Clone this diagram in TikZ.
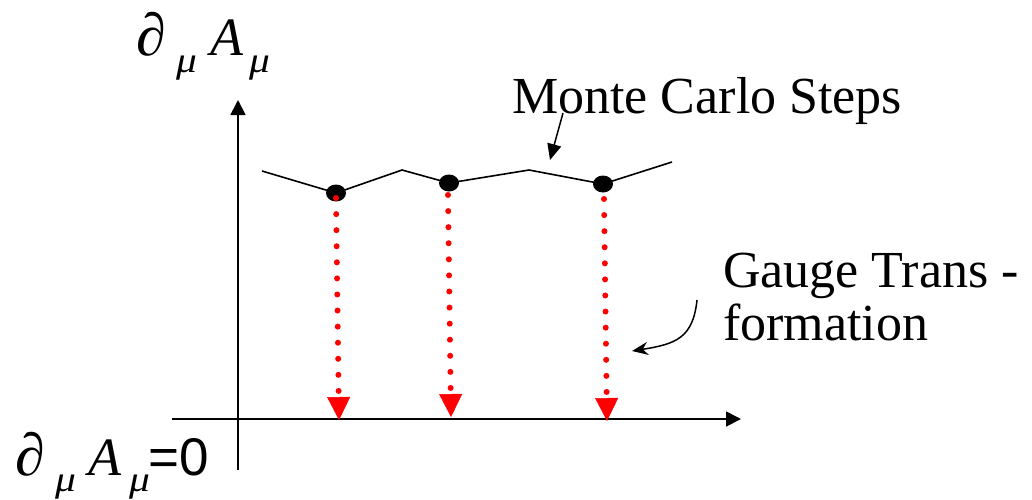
\documentclass[tikz,border=0pt]{standalone}
\usepackage{fontspec}
\setmainfont{Liberation Serif}
\newfontfamily\arialfont{Liberation Sans}
\usetikzlibrary{arrows.meta,shapes.geometric}
\newcommand{\mypartial}{\fontsize{60}{60}\selectfont ∂}
\newcommand{\mysubmu}[1]{\raisebox{#1}{\scalebox{1.15}[1]{\fontsize{36}{36}\selectfont\itshape μ}}}
\newcommand{\myA}{\fontsize{54}{60}\selectfont\itshape A}
\begin{document}
\begin{tikzpicture}[x=1pt,y=-1pt,
  axis/.style={line width=1.8pt,-{Triangle[length=15pt,width=15pt]}},
  traj/.style={line width=1.6pt},
  mcpoint/.style={ellipse,fill=black,minimum width=20pt,minimum height=17pt,inner sep=0pt},
  reddots/.style={red,line width=6pt,line cap=round,dash pattern=on 0pt off 16.08pt,
    -{Triangle[length=23pt,width=23pt,line width=0.5pt]}},
  pointer/.style={line width=1.5pt},
  lbl/.style={inner sep=0pt,anchor=base west,font=\fontsize{52}{60}\selectfont},
  mathlbl/.style={inner sep=0pt,anchor=base west}
]
\useasboundingbox (0,0) rectangle (1032,499);
% axes
\coordinate (ybot) at (238,470);
\coordinate (ytop) at (238,100);
\coordinate (xleft) at (172,419);
\coordinate (xright) at (741,419);
\draw[axis] (ybot) -- (ytop);
\draw[axis] (xleft) -- (xright);
% trajectory
\coordinate (t0) at (262,171);
\coordinate (t2) at (402,170);
\coordinate (t4) at (529,170);
\coordinate (t6) at (672,162);
\node[mcpoint] (p1) at (336,193) {};
\node[mcpoint] (p2) at (449,183) {};
\node[mcpoint] (p3) at (603,184) {};
\draw[traj] (t0) -- (p1.center) -- (t2) -- (p2.center) -- (t4) -- (p3.center) -- (t6);
% gauge transformation arrows
\coordinate (s1) at (336,198);
\coordinate (e1) at (339,420);
\coordinate (s2) at (448,195);
\coordinate (e2) at (451,417);
\coordinate (s3) at (604,199);
\coordinate (e3) at (607,421);
\draw[reddots] (s1) -- (e1);
\draw[reddots] (s2) -- (e2);
\draw[reddots] (s3) -- (e3);
% labels
\node[mathlbl] (ylab) at (136,55) {\makebox[40pt][l]{\mypartial}\makebox[34pt][l]{\mysubmu{-17pt}}\makebox[39pt][l]{\myA}\mysubmu{-17pt}};
\node[mathlbl] (xlab) at (15,475) {\makebox[40pt][l]{\mypartial}\makebox[33pt][l]{\mysubmu{-16pt}}\makebox[41pt][l]{\myA}\makebox[19pt][l]{\mysubmu{-16pt}}{\fontsize{53}{60}\selectfont\arialfont=0}};
\node[lbl] (mc) at (512,113) {Monte Carlo Steps};
\node[lbl] (gt1) at (723,287) {Gauge Trans -};
\node[lbl] (gt2) at (723,340) {formation};
% pointers
\coordinate (mcfrom) at (563,113);
\coordinate (mcto) at (550,160);
\draw[pointer,-{Triangle[length=16pt,width=14pt]}] (mcfrom) -- (mcto);
\coordinate (gtfrom) at (697,300);
\coordinate (gtto) at (632,351);
\draw[pointer,-{Stealth[length=16pt,width=13pt]}] (gtfrom) .. controls (693,338) and (676,344) .. (gtto);
\end{tikzpicture}
\end{document}
